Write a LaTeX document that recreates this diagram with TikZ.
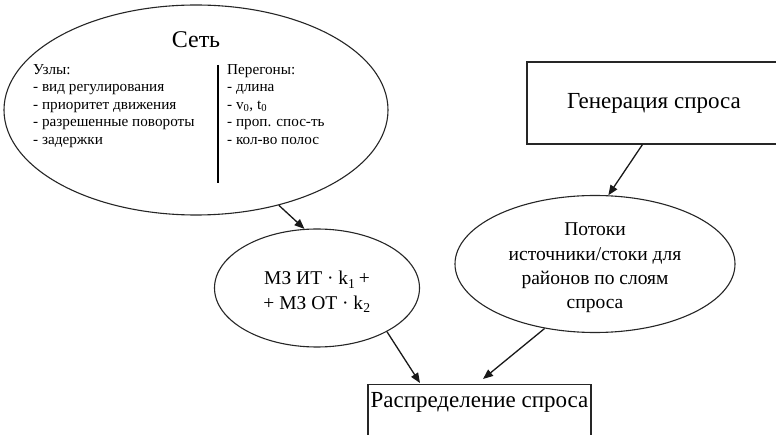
\documentclass[tikz,border=0pt]{standalone}
\usepackage{fontspec}
\setmainfont{Liberation Serif}
\newfontfamily\diagserif{Liberation Serif}
\usetikzlibrary{shapes.geometric,arrows.meta}
\begin{document}
\begin{tikzpicture}[x=1pt,y=-1pt,
  shape line/.style={draw=black!85,line width=1.1pt},
  oval/.style={shape line,ellipse,inner sep=0pt},
  box/.style={shape line,rectangle,inner sep=0pt},
  flow/.style={draw=black!90,line width=1.3pt,-{Triangle[length=10pt,width=8pt]}},
  bigtext/.style={font=\diagserif\fontsize{23}{27}\selectfont,align=center},
  midtext/.style={font=\diagserif\fontsize{19.5}{24.5}\selectfont,align=center,inner sep=0pt},
  smalltext/.style={font=\diagserif\fontsize{15.2}{17.6}\selectfont,align=left,anchor=north west,inner sep=0pt}]
\useasboundingbox (0,0) rectangle (776,435);
\clip (0,0) rectangle (776,435);
\fill[white] (0,0) rectangle (776,435);

% network ellipse with its two columns
\node[oval,minimum width=384,minimum height=210] (set) at (196,110) {};
\node[bigtext,font=\diagserif\fontsize{24}{28}\selectfont] (settitle) at (196,40) {Сеть};
\node[smalltext] (nodes) at (33,64) {Узлы:\\- вид регулирования\\- приоритет движения\\- разрешенные повороты\\- задержки};
\node[smalltext] (links) at (227,64) {Перегоны:\\- длина\\- v\textsubscript{0}, t\textsubscript{0}\\- проп. спос-ть\\- кол-во полос};
\coordinate (divtop) at (218,65);
\coordinate (divbot) at (218,183);
\draw[line width=1.2pt] (divtop) -- (divbot);

% demand generation
\node[box,minimum width=254,minimum height=82,bigtext] (gen) at (654,103) {Генерация спроса};

% weighted travel-time matrices
\node[oval,minimum width=205,minimum height=118] (mz) at (317,288) {};
\node[midtext] (mztext) at (317,292)
  {МЗ ИТ · k\textsubscript{1}\,+\\+ МЗ ОТ · k\textsubscript{2}};

% origin/destination flows
\node[oval,minimum width=280,minimum height=137] (flows) at (595,264) {};
\node[midtext,font=\diagserif\fontsize{19.5}{24.3}\selectfont] (flowstext) at (595,268)
  {Потоки\\источники/стоки для\\районов по слоям\\спроса};

% demand distribution
\node[box,anchor=north,minimum width=223,text height=23pt,text depth=40pt,bigtext] (dist) at (479.5,384)
  {Распределение спроса};

% connectors
\coordinate (distA) at (420,383);
\coordinate (distB) at (483,379);
\draw[flow] (set.-49) -- (mz.102);
\draw[flow] (gen.south west) ++(116,0) coordinate (genout) (genout) -- (flows.79);
\draw[flow] (mz.-32) -- (distA);
\draw[flow] (flows.-128) -- (distB);
\end{tikzpicture}
\end{document}
